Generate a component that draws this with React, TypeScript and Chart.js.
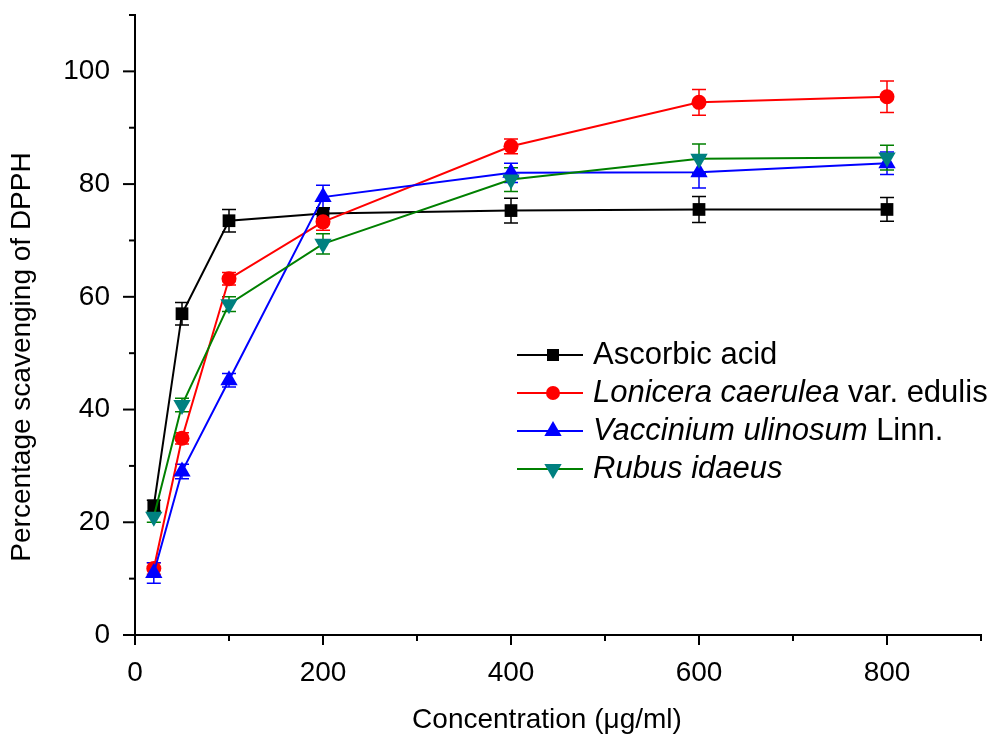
import React, { useEffect, useRef } from 'react';
import { Chart, registerables } from 'chart.js';
Chart.register(...registerables);

const concentrations = [20, 50, 100, 200, 400, 600, 800];
const ascorbicAcid = [22.9, 57, 73.5, 74.8, 75.3, 75.5, 75.5];
const ascorbicErr = [1, 2, 2, 1, 2.2, 2.3, 2.1];
const lonicera = [11.8, 34.9, 63.2, 73.3, 86.7, 94.5, 95.5];
const loniceraErr = [1, 1, 1.1, 1.5, 1.3, 2.3, 2.8];
const vaccinium = [11.0, 29, 45.2, 77.7, 82, 82.1, 83.7];
const vacciniumErr = [1.8, 1.3, 1.2, 2.1, 1.7, 2.8, 2];
const rubus = [21.0, 40.8, 58.7, 69.4, 80.8, 84.5, 84.7];
const rubusErr = [1, 1.2, 1.3, 1.8, 2.1, 2.6, 2.2];
const xTickLabels = [0, 200, 400, 600, 800];
const yTickLabels = [0, 20, 40, 60, 80, 100];
const xTitle = 'Concentration (μg/ml)';
const yTitle = 'Percentage scavenging of DPPH';

const FONT = '"Liberation Sans", Arial, sans-serif';

type Seg = { t: string; i: boolean };
const legendItems: { segs: Seg[]; line: string; fill: string; style: string }[] = [
  { segs: [{ t: 'Ascorbic acid', i: false }], line: '#000000', fill: '#000000', style: 'rect' },
  { segs: [{ t: 'Lonicera caerulea', i: true }, { t: ' var. edulis', i: false }], line: '#FF0000', fill: '#FF0000', style: 'circle' },
  { segs: [{ t: 'Vaccinium ulinosum', i: true }, { t: ' Linn.', i: false }], line: '#0000FF', fill: '#0000FF', style: 'tri' },
  { segs: [{ t: 'Rubus idaeus', i: true }], line: '#008000', fill: '#008080', style: 'tridown' },
];

const values = [ascorbicAcid, lonicera, vaccinium, rubus];
const errors = [ascorbicErr, loniceraErr, vacciniumErr, rubusErr];
const errColors = ['#000000', '#FF0000', '#0000FF', '#008000'];

function drawMarker(ctx: CanvasRenderingContext2D, style: string, x: number, y: number, color: string) {
  ctx.fillStyle = color;
  ctx.beginPath();
  if (style === 'rect') {
    const s = 8.5 * Math.SQRT1_2;
    ctx.rect(x - s, y - s, 2 * s, 2 * s);
  } else if (style === 'circle') {
    ctx.arc(x, y, 7, 0, Math.PI * 2);
  } else if (style === 'tri') {
    const r = 10;
    ctx.moveTo(x, y - r);
    ctx.lineTo(x + r * Math.sin((2 * Math.PI) / 3), y - r * Math.cos((2 * Math.PI) / 3));
    ctx.lineTo(x + r * Math.sin((4 * Math.PI) / 3), y - r * Math.cos((4 * Math.PI) / 3));
    ctx.closePath();
  } else {
    const r = 10;
    ctx.moveTo(x, y + r);
    ctx.lineTo(x + r * Math.sin((2 * Math.PI) / 3), y + r * Math.cos((2 * Math.PI) / 3));
    ctx.lineTo(x + r * Math.sin((4 * Math.PI) / 3), y + r * Math.cos((4 * Math.PI) / 3));
    ctx.closePath();
  }
  ctx.fill();
}

const errorBarPlugin = {
  id: 'errorBars',
  beforeDatasetsDraw(chart: any) {
    const ctx = chart.ctx;
    const yScale = chart.scales.y;
    ctx.save();
    chart.data.datasets.forEach((_ds: any, di: number) => {
      const meta = chart.getDatasetMeta(di);
      const vals = values[di];
      const errs = errors[di];
      ctx.strokeStyle = errColors[di];
      ctx.lineWidth = 1.5;
      meta.data.forEach((pt: any, i: number) => {
        const v = vals[i];
        const e = errs[i];
        const x = pt.x;
        const yt = yScale.getPixelForValue(v + e);
        const yb = yScale.getPixelForValue(v - e);
        ctx.beginPath();
        ctx.moveTo(x, yt);
        ctx.lineTo(x, yb);
        ctx.moveTo(x - 7, yt);
        ctx.lineTo(x + 7, yt);
        ctx.moveTo(x - 7, yb);
        ctx.lineTo(x + 7, yb);
        ctx.stroke();
      });
    });
    ctx.restore();
  },
};

const decorPlugin = {
  id: 'decor',
  afterDraw(chart: any) {
    const ctx = chart.ctx;
    const xs = chart.scales.x;
    const ys = chart.scales.y;
    const area = chart.chartArea;
    ctx.save();
    ctx.strokeStyle = '#000';
    ctx.lineWidth = 2;
    for (let v = 0; v <= 900; v += 100) {
      const px = xs.getPixelForValue(v);
      const len = xTickLabels.includes(v) ? 10 : 6;
      ctx.beginPath();
      ctx.moveTo(px, area.bottom);
      ctx.lineTo(px, area.bottom + len);
      ctx.stroke();
    }
    for (let v = 0; v <= 110; v += 10) {
      const py = ys.getPixelForValue(v);
      const len = yTickLabels.includes(v) ? 12 : 6;
      ctx.beginPath();
      ctx.moveTo(area.left, py);
      ctx.lineTo(area.left - len, py);
      ctx.stroke();
    }
    ctx.fillStyle = '#000';
    ctx.font = `28px ${FONT}`;
    ctx.textAlign = 'center';
    ctx.textBaseline = 'middle';
    ctx.fillText(xTitle, 547, 720);
    ctx.save();
    ctx.translate(22, 357);
    ctx.rotate(-Math.PI / 2);
    ctx.fillText(yTitle, 0, 0);
    ctx.restore();
    const rowY = [355, 393, 431, 469];
    legendItems.forEach((it, k) => {
      const y = rowY[k];
      ctx.strokeStyle = it.line;
      ctx.lineWidth = 2;
      ctx.beginPath();
      ctx.moveTo(517, y);
      ctx.lineTo(583, y);
      ctx.stroke();
      drawMarker(ctx, it.style, 553, y, it.fill);
      let x = 593;
      ctx.fillStyle = '#000';
      ctx.textAlign = 'left';
      ctx.textBaseline = 'middle';
      it.segs.forEach((s) => {
        ctx.font = `${s.i ? 'italic ' : ''}31px ${FONT}`;
        ctx.fillText(s.t, x, y);
        x += ctx.measureText(s.t).width;
      });
    });
    ctx.restore();
  },
};

export default function App() {
  const ref = useRef<HTMLCanvasElement | null>(null);
  useEffect(() => {
    document.body.style.margin = '0';
    if (!ref.current) return;
    const mk = (arr: number[]) => arr.map((v, i) => ({ x: concentrations[i], y: v }));
    const zeroPad = (s: any) => {
      s.paddingTop = 0;
      s.paddingBottom = 0;
      s.paddingLeft = 0;
      s.paddingRight = 0;
    };
    const chart = new Chart(ref.current, {
      type: 'line',
      data: {
        datasets: [
          {
            label: 'Ascorbic acid',
            data: mk(ascorbicAcid) as any,
            borderColor: '#000000',
            backgroundColor: '#000000',
            pointStyle: 'rect',
            pointRadius: 9,
            pointBorderWidth: 0,
            borderWidth: 2,
            order: 4,
          },
          {
            label: 'Lonicera caerulea var. edulis',
            data: mk(lonicera) as any,
            borderColor: '#FF0000',
            backgroundColor: '#FF0000',
            pointStyle: 'circle',
            pointRadius: 7.5,
            pointBorderWidth: 0,
            borderWidth: 2,
            order: 3,
          },
          {
            label: 'Vaccinium ulinosum Linn.',
            data: mk(vaccinium) as any,
            borderColor: '#0000FF',
            backgroundColor: '#0000FF',
            pointStyle: 'triangle',
            pointRadius: 10,
            pointBorderWidth: 0,
            borderWidth: 2,
            order: 2,
          },
          {
            label: 'Rubus idaeus',
            data: mk(rubus) as any,
            borderColor: '#008000',
            backgroundColor: '#008080',
            pointBackgroundColor: '#008080',
            pointStyle: 'triangle',
            pointRotation: 180,
            pointRadius: 10,
            pointBorderWidth: 0,
            borderWidth: 2,
            order: 1,
          },
        ],
      },
      options: {
        animation: false,
        responsive: true,
        maintainAspectRatio: false,
        layout: { padding: { top: 15, right: 11, left: 0, bottom: 0 } },
        plugins: { legend: { display: false }, tooltip: { enabled: false } },
        scales: {
          x: {
            type: 'linear',
            min: 0,
            max: 900,
            grid: { display: true, drawOnChartArea: false, drawTicks: false },
            border: { display: true, color: '#000', width: 2 },
            ticks: {
              stepSize: 100,
              autoSkip: false,
              maxRotation: 0,
              padding: 21,
              color: '#000',
              font: { size: 28, family: FONT },
              callback: (v: any) => (xTickLabels.includes(Number(v)) ? String(v) : ''),
            },
            afterFit: (s: any) => {
              s.height = 104;
              zeroPad(s);
            },
          },
          y: {
            type: 'linear',
            min: 0,
            max: 110,
            grid: { display: true, drawOnChartArea: false, drawTicks: false },
            border: { display: true, color: '#000', width: 2 },
            ticks: {
              stepSize: 10,
              autoSkip: false,
              padding: 25,
              color: '#000',
              font: { size: 28, family: FONT },
              callback: (v: any) => (yTickLabels.includes(Number(v)) ? String(v) : ''),
            },
            afterFit: (s: any) => {
              s.width = 135;
              zeroPad(s);
            },
          },
        },
      },
      plugins: [errorBarPlugin, decorPlugin],
    });
    return () => chart.destroy();
  }, []);
  return (
    <div style={{ position: 'absolute', left: 0, top: 0, width: 992, height: 739, background: '#fff' }}>
      <canvas ref={ref} />
    </div>
  );
}
